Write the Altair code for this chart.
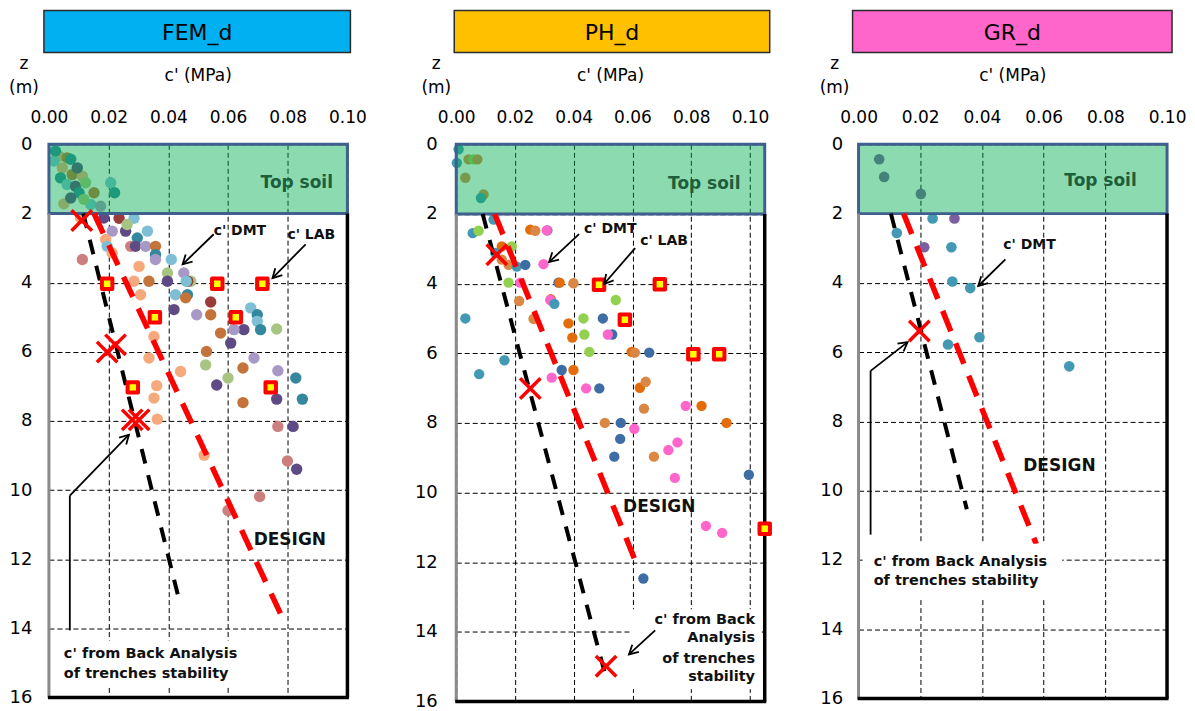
import math
import altair as alt
import pandas as pd

FONT = "DejaVu Sans"

# ---------------- series / colours ----------------
SERIES = ["peach", "brown", "dpurple", "lpurple", "lblue", "teal", "pgreen", "rosy", "dred",
          "green", "orange", "borange", "pink", "blue", "teal2", "purple"]
COLORS = ["#F5A97C", "#C4743A", "#5E4A85", "#A898C6", "#7FBFD6", "#35879E", "#A8C482", "#CC7F7F", "#9A3B3A",
          "#92D050", "#E46C0A", "#DA8744", "#FF66CC", "#3E6DA5", "#4399B3", "#7B5FA0"]

# ---------------- Panel 1 : FEM_d ----------------
P1_X = [0.0034, 0.0061, 0.0073, 0.0045, 0.0039, 0.0078, 0.0112, 0.0061, 0.0089, 0.0123, 0.0101, 0.0151,
        0.0140, 0.0050, 0.0207, 0.0220, 0.0073, 0.0117, 0.0017, 0.0022, 0.0095, 0.0173,
        0.0106, 0.0184, 0.0235, 0.0285, 0.0212, 0.0257, 0.0262, 0.0190, 0.0195, 0.0212, 0.0296, 0.0330,
        0.0274, 0.0290, 0.0324, 0.0357, 0.0357, 0.0357, 0.0112, 0.0410, 0.0302, 0.0397, 0.0452, 0.0285,
        0.0335, 0.0397, 0.0475, 0.0465, 0.0460, 0.0307, 0.0424, 0.0464, 0.0458, 0.0542, 0.0419, 0.0495,
        0.0542, 0.0676, 0.0698, 0.0698, 0.0709, 0.0653, 0.0620, 0.0763, 0.0575, 0.0352, 0.0609, 0.0528,
        0.0335, 0.0687, 0.0525, 0.0650, 0.0767, 0.0441, 0.0827, 0.0600, 0.0562, 0.0361, 0.0352, 0.0763,
        0.0849, 0.0650, 0.0363, 0.0767, 0.0818, 0.0520, 0.0799, 0.0830, 0.0706, 0.0600]
P1_Y = [0.34, 0.39, 0.43, 0.68, 0.97, 0.87, 0.92, 1.16, 1.21, 1.11, 1.40, 1.40,
        1.74, 1.72, 1.11, 1.40, 1.55, 1.59, 0.48, 0.19, 0.68, 1.79,
        2.13, 2.13, 2.14, 2.14, 2.51, 2.51, 2.32, 2.75, 2.95, 3.14, 2.71, 2.51,
        2.95, 2.95, 2.95, 2.95, 3.19, 3.33, 3.33, 3.33, 3.53, 3.72, 3.72, 3.96,
        3.96, 3.96, 3.96, 3.96, 3.96, 4.35, 4.35, 4.35, 4.44, 4.56, 4.78, 4.93,
        4.93, 4.73, 4.93, 5.12, 5.36, 5.36, 5.36, 5.34, 5.46, 5.56, 5.75, 5.99,
        6.18, 6.18, 6.38, 6.47, 6.55, 6.57, 6.76, 6.76, 6.96, 6.98, 7.34, 7.37,
        7.37, 7.47, 7.95, 8.16, 8.16, 8.99, 9.16, 9.40, 10.19, 10.59]
P1_S = ["peach", "brown", "teal", "peach", "teal", "brown", "peach", "lblue", "dpurple", "pgreen", "teal", "brown",
        "lblue", "peach", "lblue", "teal", "dpurple", "pgreen", "lblue", "teal", "dpurple", "lpurple",
        "peach", "dpurple", "dred", "lblue", "lpurple", "dpurple", "pgreen", "peach", "lblue", "peach", "teal", "lblue",
        "rosy", "dpurple", "lpurple", "brown", "teal", "lpurple", "rosy", "lblue", "peach", "pgreen", "lpurple", "peach",
        "brown", "dpurple", "pgreen", "dred", "lblue", "peach", "lblue", "teal", "brown", "dred", "dpurple", "lpurple",
        "brown", "lblue", "teal", "lblue", "teal", "dpurple", "lpurple", "pgreen", "brown", "peach", "dpurple", "brown",
        "peach", "lpurple", "pgreen", "brown", "lpurple", "peach", "teal", "pgreen", "dpurple", "peach", "peach", "dpurple",
        "teal", "brown", "peach", "rosy", "dpurple", "peach", "rosy", "dpurple", "rosy", "rosy"]
P1_LAB_X = [0.0195, 0.0564, 0.0715, 0.0355, 0.0626, 0.0281, 0.0743]
P1_LAB_Y = [4.03, 4.03, 4.03, 5.00, 5.00, 7.03, 7.03]
P1_BA_X = [0.0110, 0.0223, 0.0195, 0.0279, 0.0302]
P1_BA_Y = [2.20, 5.80, 6.01, 7.97, 7.97]
P1_DMT_X = [0.0115, 0.0441]
P1_DMT_Y = [2.0, 13.35]
P1_DES_X = [0.0151, 0.0776]
P1_DES_Y = [2.0, 13.58]

# ---------------- Panel 2 : PH_d ----------------
P2_X = [0.0008, 0.0002, 0.0042, 0.0059, 0.0072, 0.0031, 0.0093, 0.0084,
        0.0127, 0.0056, 0.0076, 0.0252, 0.0269, 0.0310, 0.0308, 0.0155, 0.0189, 0.0133, 0.0155, 0.0178,
        0.0206, 0.0235, 0.0297, 0.0178, 0.0218, 0.0348, 0.0352, 0.0399, 0.0214, 0.0322, 0.0320, 0.0334,
        0.0543, 0.0031, 0.0263, 0.0433, 0.0499, 0.0382, 0.0436, 0.0531, 0.0516, 0.0395, 0.0453, 0.0597,
        0.0608, 0.0657, 0.0164, 0.0359, 0.0399, 0.0325, 0.0078, 0.0442, 0.0487, 0.0625, 0.0645, 0.0781,
        0.0835, 0.0639, 0.0506, 0.0560, 0.0920, 0.0606, 0.0558, 0.0538, 0.0673, 0.0722, 0.0753, 0.0744,
        0.0996, 0.0850, 0.0905, 0.0637]
P2_Y = [0.14, 0.53, 0.43, 0.43, 0.43, 0.96, 1.44, 1.54,
        2.16, 2.55, 2.48, 2.45, 2.48, 2.47, 2.47, 2.93, 2.93, 3.12, 3.31, 3.46,
        3.51, 3.46, 3.44, 3.97, 3.97, 3.97, 3.97, 3.99, 4.50, 4.45, 4.47, 4.58,
        4.47, 5.00, 5.01, 5.00, 5.00, 5.14, 5.46, 5.46, 5.46, 5.55, 5.96, 5.96,
        5.98, 5.98, 6.20, 6.48, 6.48, 6.70, 6.60, 7.01, 7.01, 6.99, 6.82, 7.51,
        7.51, 7.59, 8.00, 8.00, 8.00, 8.17, 8.46, 8.97, 8.97, 8.78, 8.56, 9.58,
        9.49, 10.96, 11.16, 12.47]
P2_S = ["teal2", "teal2", "borange", "green", "borange", "borange", "borange", "teal2",
        "teal2", "teal2", "green", "orange", "borange", "blue", "pink", "orange", "green", "teal2", "borange", "borange",
        "teal2", "blue", "pink", "green", "pink", "blue", "orange", "borange", "borange", "orange", "pink", "teal2",
        "green", "teal2", "borange", "green", "blue", "orange", "green", "blue", "pink", "orange", "green", "orange",
        "borange", "blue", "teal2", "blue", "orange", "pink", "teal2", "pink", "blue", "orange", "borange", "pink",
        "orange", "borange", "borange", "blue", "orange", "pink", "blue", "blue", "borange", "pink", "pink", "pink",
        "blue", "pink", "pink", "blue"]
P2_LAB_X = [0.0486, 0.0693, 0.0574, 0.0807, 0.0895, 0.1050]
P2_LAB_Y = [4.03, 4.02, 5.04, 6.03, 6.03, 11.04]
P2_BA_X = [0.0138, 0.0252, 0.0510]
P2_BA_Y = [3.17, 7.01, 14.99]
P2_DMT_X = [0.0090, 0.0509]
P2_DMT_Y = [2.0, 15.29]
P2_DES_X = [0.0131, 0.0622]
P2_DES_Y = [2.0, 12.22]

# ---------------- Panel 3 : GR_d ----------------
P3_X = [0.0067, 0.0083, 0.0202, 0.0240, 0.0311, 0.0124, 0.0213, 0.0301, 0.0304, 0.0362, 0.0290, 0.0392, 0.0683]
P3_Y = [0.43, 0.94, 1.43, 2.14, 2.14, 2.56, 2.97, 2.97, 3.96, 4.15, 5.78, 5.57, 6.41]
P3_S = ["purple", "purple", "purple", "teal2", "purple", "teal2", "purple", "teal2", "teal2", "teal2", "teal2",
        "teal2", "teal2"]
P3_BA_X = [0.0197]
P3_BA_Y = [5.39]
P3_DMT_X = [0.0105, 0.0351]
P3_DMT_Y = [2.0, 10.54]
P3_DES_X = [0.0146, 0.0576]
P3_DES_Y = [2.0, 11.54]

X_TICKS = [0.0, 0.02, 0.04, 0.06, 0.08, 0.10]
Y_TICKS = [0, 2, 4, 6, 8, 10, 12, 14, 16]


def arrow_heads(segs, kx, ky):
    rows = []
    for (x0, y0, x1, y1) in segs:
        dx = (x1 - x0) * kx
        dy = (y1 - y0) * ky
        ang = math.degrees(math.atan2(dx, -dy)) % 360
        rows.append({"x": x1, "y": y1, "a": ang})
    return pd.DataFrame(rows)


def panel(cfg):
    xmax, w, h = cfg["xmax"], cfg["w"], cfg["h"]
    kx, ky = w / xmax, h / 16.0
    xs = alt.Scale(domain=[0, xmax], nice=False, zero=False)
    ys = alt.Scale(domain=[0, 16], reverse=True, nice=False)
    grid = dict(grid=True, gridDash=[5, 3], gridColor="black", gridWidth=1, gridOpacity=1,
                ticks=False, tickSize=0, domain=False, labelFont=FONT, labelColor="black", title=None)
    xaxis = alt.Axis(orient="top", values=X_TICKS, format=".2f", labelFontSize=17, labelPadding=18,
                     labelFlush=False, **grid)
    yaxis = alt.Axis(values=Y_TICKS, labelFontSize=18, labelPadding=cfg["lpad"], **grid)

    def X(f="x"):
        return alt.X(f + ":Q", scale=xs, axis=xaxis)

    def Y(f="y"):
        return alt.Y(f + ":Q", scale=ys, axis=yaxis)

    pts = pd.DataFrame({"x": cfg["px"], "y": cfg["py"], "s": cfg["ps"]})
    points = alt.Chart(pts).mark_circle(size=cfg["psize"], opacity=1).encode(
        x=X(), y=Y(),
        color=alt.Color("s:N", scale=alt.Scale(domain=SERIES, range=COLORS), legend=None),
    )
    band = alt.Chart(pd.DataFrame({"x": [0.0], "x2": [xmax], "y": [0.0], "y2": [2.0]})).mark_rect(
        fill="#00B050", fillOpacity=0.45, stroke="#3F5F8F", strokeWidth=3, strokeOpacity=1
    ).encode(x=X(), x2="x2:Q", y=Y(), y2="y2:Q")
    frame_df = pd.DataFrame({"y": [2.0], "y2": [16.0]})
    left_edge = alt.Chart(frame_df).mark_rule(color="#8A8A8A", strokeWidth=3).encode(
        x=alt.value(0), y=Y(), y2="y2:Q")
    right_edge = alt.Chart(frame_df).mark_rule(color="black", strokeWidth=3.5).encode(
        x=alt.value(w), y=Y(), y2="y2:Q")
    bottom_edge = alt.Chart(frame_df).mark_rule(color="black", strokeWidth=3.5).encode(
        x=alt.value(-1), x2=alt.value(w + 1.5), y=alt.value(h))
    topsoil = alt.Chart(pd.DataFrame({"x": [cfg["tsx"]], "y": [cfg["tsy"]], "t": ["Top soil"]})).mark_text(
        font=FONT, fontSize=17, fontWeight="bold", color="#1D5E3C", align="left", baseline="middle"
    ).encode(x=X(), y=Y(), text="t:N")
    dmt = alt.Chart(pd.DataFrame({"x": cfg["dmtx"], "y": cfg["dmty"]})).mark_line(
        color="black", strokeWidth=4, strokeDash=[15, 12]).encode(x=X(), y=Y())
    des = alt.Chart(pd.DataFrame({"x": cfg["desx"], "y": cfg["desy"]})).mark_line(
        color="#FF0000", strokeWidth=5.5, strokeDash=[22, 13]).encode(x=X(), y=Y())
    layers = [points, band, left_edge, right_edge, bottom_edge, topsoil, dmt, des]
    if cfg.get("labx"):
        layers.append(alt.Chart(pd.DataFrame({"x": cfg["labx"], "y": cfg["laby"]})).mark_point(
            shape="square", filled=True, fill="#FFFF00", stroke="#FF0000", strokeWidth=4, size=110,
            opacity=1, fillOpacity=1, strokeOpacity=1, strokeJoin="round").encode(x=X(), y=Y()))
    layers.append(alt.Chart(pd.DataFrame({"x": cfg["bax"], "y": cfg["bay"]})).mark_point(
        shape="M-1,-1L1,1M-1,1L1,-1", filled=False, stroke="#FF0000", strokeWidth=3.5, size=420,
        opacity=1).encode(x=X(), y=Y()))
    # white box behind the back-analysis note
    bb = cfg["bbox"]
    layers.append(alt.Chart(pd.DataFrame({"x": [bb[0]], "x2": [bb[1]], "y": [bb[2]], "y2": [bb[3]]})).mark_rect(
        fill="white").encode(x=X(), x2="x2:Q", y=Y(), y2="y2:Q"))
    # annotation texts
    lab = pd.DataFrame(cfg["labels"], columns=["x", "y", "t"])
    layers.append(alt.Chart(lab).mark_text(font=FONT, fontSize=14, fontWeight="bold", color="#111",
                                           align="left", baseline="middle").encode(x=X(), y=Y(), text="t:N"))
    dsg = pd.DataFrame([cfg["design"]], columns=["x", "y", "t"])
    layers.append(alt.Chart(dsg).mark_text(font=FONT, fontSize=17, fontWeight="bold", color="#111",
                                           align="left", baseline="middle").encode(x=X(), y=Y(), text="t:N"))
    back = pd.DataFrame(cfg["back"], columns=["x", "y", "t"])
    layers.append(alt.Chart(back).mark_text(font=FONT, fontSize=14.5, fontWeight="bold", color="#111",
                                            align=cfg["balign"], baseline="middle").encode(x=X(), y=Y(), text="t:N"))
    # leader lines and arrow heads
    segs = pd.DataFrame(cfg["segs"], columns=["x", "y", "x2", "y2"])
    layers.append(alt.Chart(segs).mark_rule(color="black", strokeWidth=1.8).encode(
        x=X(), y=Y(), x2="x2:Q", y2="y2:Q"))
    heads = arrow_heads(cfg["arrows"], kx, ky)
    layers.append(alt.Chart(heads).mark_point(
        shape="M-0.55,1L0,0L0.55,1", filled=False, stroke="black", strokeWidth=1.8, size=324, opacity=1
    ).encode(x=X(), y=Y(), angle=alt.Angle("a:Q", scale=None)))
    # axis titles as text
    tdf = pd.DataFrame({"t": [cfg["title"]], "xt": ["c' (MPa)"], "z": ["z"], "m": ["(m)"]})
    txt = dict(font=FONT, fontSize=17, color="black", baseline="middle", align="center")
    layers.append(alt.Chart(tdf).mark_text(**txt).encode(x=alt.value(w / 2), y=alt.value(-68), text="xt:N"))
    layers.append(alt.Chart(tdf).mark_text(**txt).encode(x=alt.value(cfg["ttx"]), y=alt.value(-80), text="z:N"))
    layers.append(alt.Chart(tdf).mark_text(**txt).encode(x=alt.value(cfg["ttx"]), y=alt.value(-56), text="m:N"))
    # title box
    bx0, bx1 = cfg["box"]
    layers.append(alt.Chart(tdf).mark_rect(fill=cfg["tcolor"], stroke="#2B2B2B", strokeWidth=1.5).encode(
        x=alt.value(bx0), x2=alt.value(bx1), y=alt.value(-134), y2=alt.value(-92)))
    layers.append(alt.Chart(tdf).mark_text(font=FONT, fontSize=22, color="black", baseline="middle",
                                           align="center").encode(
        x=alt.value((bx0 + bx1) / 2), y=alt.value(-112), text="t:N"))
    return alt.layer(*layers).properties(width=w, height=h)


p1 = panel(dict(
    title="FEM_d", tcolor="#00B0F0", xmax=0.10, w=299, h=554, ttx=-25, lpad=17, psize=130,
    px=P1_X, py=P1_Y, ps=P1_S, labx=P1_LAB_X, laby=P1_LAB_Y, bax=P1_BA_X, bay=P1_BA_Y,
    dmtx=P1_DMT_X, dmty=P1_DMT_Y, desx=P1_DES_X, desy=P1_DES_Y, tsx=0.0709, tsy=1.13,
    bbox=[0.0040, 0.0640, 14.35, 15.70],
    labels=[[0.0552, 2.51, "c' DMT"], [0.0799, 2.63, "c' LAB"]],
    design=[0.0686, 11.46, "DESIGN"],
    back=[[0.0050, 14.73, "c' from Back Analysis"], [0.0050, 15.31, "of trenches stability"]],
    balign="left",
    segs=[[0.0552, 2.60, 0.0448, 3.47], [0.0860, 2.89, 0.0749, 3.87],
          [0.0070, 14.06, 0.0070, 10.16], [0.0070, 10.16, 0.0268, 8.40]],
    arrows=[[0.0552, 2.60, 0.0448, 3.47], [0.0860, 2.89, 0.0749, 3.87], [0.0070, 10.16, 0.0268, 8.40]],
    box=[-5, 302],
))

p2 = panel(dict(
    title="PH_d", tcolor="#FFC000", xmax=0.105, w=309, h=558, ttx=-20, lpad=19, psize=108,
    px=P2_X, py=P2_Y, ps=P2_S, labx=P2_LAB_X, laby=P2_LAB_Y, bax=P2_BA_X, bay=P2_BA_Y,
    dmtx=P2_DMT_X, dmty=P2_DMT_Y, desx=P2_DES_X, desy=P2_DES_Y, tsx=0.0721, tsy=1.15,
    bbox=[0.0597, 0.1040, 13.35, 15.65],
    labels=[[0.0435, 2.44, "c' DMT"], [0.0626, 2.78, "c' LAB"]],
    design=[0.0568, 10.41, "DESIGN"],
    back=[[0.1017, 13.65, "c' from Back"], [0.1017, 14.19, "Analysis"],
          [0.1017, 14.77, "of trenches"], [0.1017, 15.31, "stability"]],
    balign="right",
    segs=[[0.0418, 2.58, 0.0316, 3.38], [0.0609, 2.98, 0.0503, 4.01], [0.0677, 13.96, 0.0588, 14.65]],
    arrows=[[0.0418, 2.58, 0.0316, 3.38], [0.0609, 2.98, 0.0503, 4.01], [0.0677, 13.96, 0.0588, 14.65]],
    box=[-2, 314],
))

p3 = panel(dict(
    title="GR_d", tcolor="#FF66CC", xmax=0.10, w=309, h=555, ttx=-24, lpad=16, psize=113,
    px=P3_X, py=P3_Y, ps=P3_S, bax=P3_BA_X, bay=P3_BA_Y,
    dmtx=P3_DMT_X, dmty=P3_DMT_Y, desx=P3_DES_X, desy=P3_DES_Y, tsx=0.0667, tsy=1.07,
    bbox=[0.0013, 0.0660, 11.53, 13.09],
    labels=[[0.0469, 2.91, "c' DMT"]],
    design=[0.0534, 9.28, "DESIGN"],
    back=[[0.0049, 12.05, "c' from Back Analysis"], [0.0049, 12.60, "of trenches stability"]],
    balign="left",
    segs=[[0.0476, 3.32, 0.0388, 4.09], [0.0039, 11.27, 0.0039, 6.54], [0.0039, 6.54, 0.0159, 5.71]],
    arrows=[[0.0476, 3.32, 0.0388, 4.09], [0.0039, 6.54, 0.0159, 5.71]],
    box=[-6, 314],
))

chart = alt.hconcat(p1, p2, p3, spacing=46).properties(
    padding={"left": 0, "top": 0, "right": 0, "bottom": 0},
    autosize=alt.AutoSizeParams(type="pad"),
).configure_view(stroke=None).configure(background="white")

chart.save("out.html", embed_options={"renderer": "svg", "actions": False})
